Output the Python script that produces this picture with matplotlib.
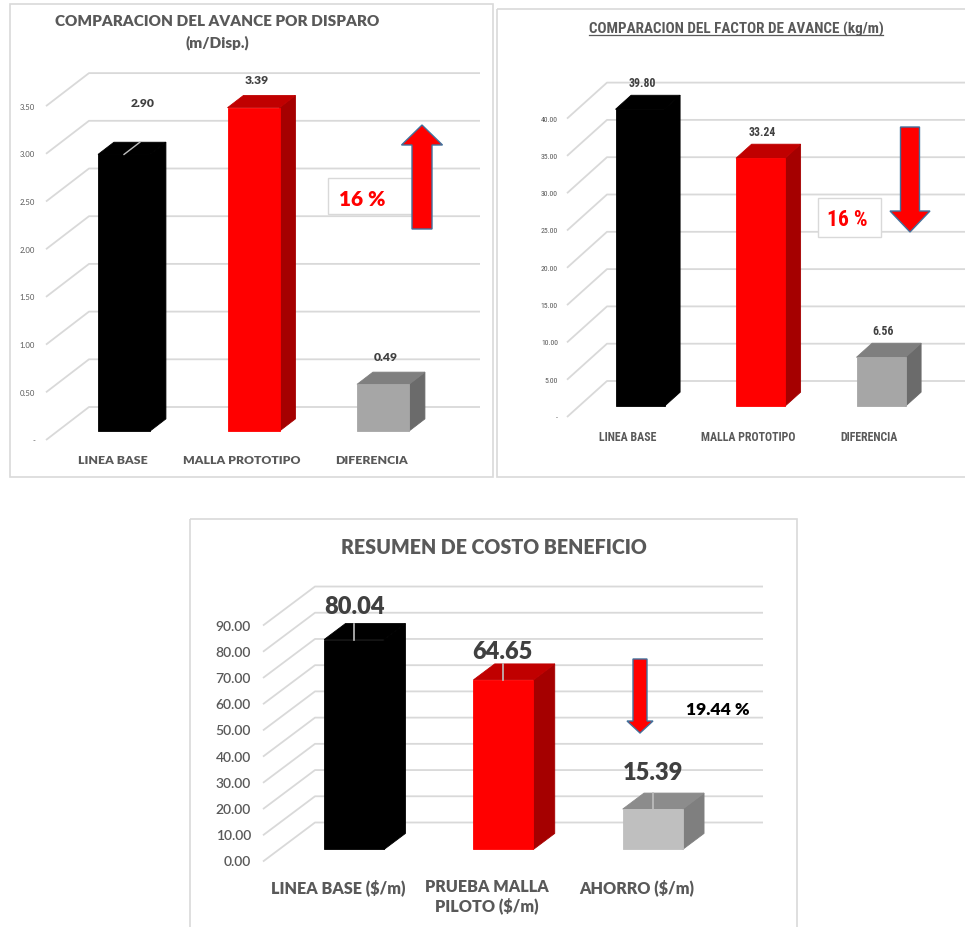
"""Three oblique-3D bar panels: avance por disparo, factor de avance, costo beneficio."""
import numpy as np, matplotlib.pyplot as plt
from matplotlib.patches import Polygon, Rectangle, FancyArrow
from matplotlib.lines import Line2D
from matplotlib.transforms import Affine2D, IdentityTransform

W, H = 965, 928
INK, TXT, GRID, FRAME, LEAD = "#404040", "#595959", "#d9d9d9", "#d9d9d9", "#bfbfbf"
RED, EDGE = "#ff0000", "#41719c"
LATO = ["Lato", "DejaVu Sans"]
COND = ["Roboto Condensed", "Lato", "DejaVu Sans"]
HEAVY = 800
plt.rcParams.update({"font.family": LATO})

# --- data ---
avance_cats = ["LINEA BASE", "MALLA PROTOTIPO", "DIFERENCIA"]
avance_vals = [2.90, 3.39, 0.49]
avance_ticks = [0, 0.5, 1.0, 1.5, 2.0, 2.5, 3.0, 3.5]
avance_pct = "16 %"

factor_cats = ["LINEA BASE", "MALLA PROTOTIPO", "DIFERENCIA"]
factor_vals = [39.80, 33.24, 6.56]
factor_ticks = [0, 5, 10, 15, 20, 25, 30, 35, 40]
factor_pct = "16 %"

costo_cats = ["LINEA BASE ($/m)", "PRUEBA MALLA\nPILOTO ($/m)", "AHORRO ($/m)"]
costo_vals = [80.04, 64.65, 15.39]
costo_ticks = [0, 10, 20, 30, 40, 50, 60, 70, 80, 90]
costo_pct = "19.44 %"

# face colours per bar: front, side, top
DARK = ("#000000", "#000000", "#000000")
REDF = ("#ff0000", "#a50000", "#c00000")
GREY1 = ("#a6a6a6", "#6b6b6b", "#7f7f7f")
GREY2 = ("#bfbfbf", "#7f7f7f", "#8c8c8c")

fig = plt.figure(figsize=(W / 100, H / 100), dpi=100)
PIX = Affine2D().scale(1, -1).translate(0, H)   # pixel coords, origin top-left


def panel(L, cats, vals, ticks, faces, zero_dash):
    x0, y0, x1, y1 = L["frame"]
    ax = fig.add_axes([x0 / W, 1 - y1 / H, (x1 - x0) / W, (y1 - y0) / H])
    ax.set_xlim((x0 - L["cat0"]) / L["step"], (x1 - L["cat0"]) / L["step"])
    ax.set_ylim((L["zero"] - y1) / L["ppu"], (L["zero"] - y0) / L["ppu"])
    ax.axis("off")
    fx = lambda px: (px - L["cat0"]) / L["step"]
    fy = lambda py: (L["zero"] - py) / L["ppu"]
    wx, wy = L["wall"][0] / L["step"], L["wall"][1] / L["ppu"]
    t0, t1 = L["t"]
    hw = L["bar_w"] / L["step"] / 2
    fam, bw = L["font"], L["weight"]

    # side-wall diagonals and back-wall gridlines
    xd, xe = fx(L["diag_x"]), fx(L["wall_end"])
    for v in ticks:
        ax.plot([xd, xd + wx, xe], [v, v + wy, v + wy], color=GRID, lw=1.3, zorder=1, solid_capstyle="butt")
        lab = "-" if (zero_dash and v == 0) else f"{v:.2f}"
        ax.text(fx(L["tick_x"]), v, lab, ha="right", va="center", fontsize=L["tick_fs"],
                fontweight=L["tick_w"], color=TXT, family=fam)

    for i, (v, (cf, cs, ct)) in enumerate(zip(vals, faces)):
        ax_, ay = i + t0 * wx, t0 * wy
        bx, by = i + t1 * wx, t1 * wy
        side = [(ax_ + hw, ay), (bx + hw, by), (bx + hw, by + v), (ax_ + hw, ay + v)]
        top = [(ax_ - hw, ay + v), (ax_ + hw, ay + v), (bx + hw, by + v), (bx - hw, by + v)]
        front = [(ax_ - hw, ay), (ax_ + hw, ay), (ax_ + hw, ay + v), (ax_ - hw, ay + v)]
        for pts, c in ((side, cs), (top, ct), (front, cf)):
            ax.add_patch(Polygon(pts, closed=True, fc=c, ec=c, lw=0.6, zorder=3))
        if L["leader"][i] == "diag":
            ax.plot([ax_, bx], [ay + v, by + v], color=LEAD, lw=1, zorder=4)
        elif L["leader"][i] == "vert":
            ax.plot([ax_, ax_], [ay + v, by + v], color=LEAD, lw=1.2, zorder=4)
        ax.text(ax_ + L["val_dx"][i] / L["step"], by + v + L["val_dy"][i] / L["ppu"], f"{v:.2f}",
                ha="center", va="center", fontsize=L["val_fs"], fontweight=bw, color=INK,
                family=fam, zorder=5)
        ax.text(i, fy(L["cat_y"]), cats[i], ha="center", va="top", fontsize=L["cat_fs"],
                fontweight=bw, color=TXT, family=fam, parse_math=False, linespacing=1.15)

    fig.add_artist(Rectangle((x0, y0), x1 - x0, y1 - y0, transform=PIX, fill=False, ec=FRAME, lw=1.2))
    return ax


L1 = dict(frame=(10, 5, 493, 478), cat0=112.4, step=129.5, zero=441, ppu=95.4, wall=(43, 33),
          t=(0.27, 0.64), bar_w=52, diag_x=46, wall_end=480, tick_x=35, tick_fs=5.6, tick_w="normal",
          cat_y=455, cat_fs=8.8, val_fs=8.7, val_dx=[19, 3, 3], val_dy=[40, 16, 16],
          leader=["diag", None, None], font=LATO, weight=HEAVY)
L2 = dict(frame=(497, 10, 968, 478), cat0=628, step=120.5, zero=418, ppu=7.46, wall=(40, 36),
          t=(0.3, 0.69), bar_w=49, diag_x=567, wall_end=968, tick_x=558, tick_fs=5.6, tick_w="normal",
          cat_y=431, cat_fs=8.6, val_fs=8.5, val_dx=[2, 2, 2], val_dy=[12.5, 12.5, 12.5],
          leader=[None, None, None], font=COND, weight="bold")
L3 = dict(frame=(190, 520, 797, 935), cat0=338, step=149.3, zero=862.5, ppu=2.622, wall=(52, 39),
          t=(0.31, 0.72), bar_w=60, diag_x=263, wall_end=763, tick_x=251, tick_fs=10, tick_w=600,
          cat_y=879, cat_fs=11.6, val_fs=17, val_dx=[0, -1, 0], val_dy=[18, 13, 21],
          leader=["vert", "vert", "vert"], font=LATO, weight=HEAVY)

panel(L1, avance_cats, avance_vals, avance_ticks, [DARK, REDF, GREY1], True)
panel(L2, factor_cats, factor_vals, factor_ticks, [DARK, REDF, GREY1], True)
panel(L3, costo_cats, costo_vals, costo_ticks, [DARK, REDF, GREY2], False)

# titles
fig.text(217 / W, 1 - 21 / H, "COMPARACION DEL AVANCE POR DISPARO", ha="center", va="center",
         fontsize=11, fontweight=HEAVY, color=TXT)
fig.text(217 / W, 1 - 43 / H, "(m/Disp.)", ha="center", va="center", fontsize=11, fontweight=HEAVY, color=TXT)
t2 = fig.text(736 / W, 1 - 29 / H, "COMPARACION DEL FACTOR DE AVANCE (kg/m)", ha="center", va="center",
              fontsize=10.9, fontweight="bold", color=TXT, family=COND)
fig.text(494 / W, 1 - 548 / H, "RESUMEN DE COSTO BENEFICIO", ha="center", va="center",
         fontsize=14.1, fontweight=HEAVY, color=TXT)

# percentage call-outs and arrows
fig.add_artist(Rectangle((328, 179), 84, 36, transform=PIX, fc="white", ec=FRAME, lw=1, zorder=1.5))
fig.text(362 / W, 1 - 199 / H, avance_pct, ha="center", va="center", fontsize=15, fontweight=HEAVY, color=RED)
fig.add_artist(FancyArrow(422, 230, 0, -104, width=20, head_width=41, head_length=20, length_includes_head=True,
                          transform=PIX, fc=RED, ec=EDGE, lw=1, zorder=2))

fig.add_artist(Rectangle((818, 199), 63, 39, transform=PIX, fc="white", ec=FRAME, lw=1, zorder=1.5))
fig.text(847 / W, 1 - 220 / H, factor_pct, ha="center", va="center", fontsize=15.5, fontweight="bold",
         color=RED, family=COND)
fig.add_artist(FancyArrow(910, 128, 0, 105, width=19, head_width=40, head_length=21, length_includes_head=True,
                          transform=PIX, fc=RED, ec=EDGE, lw=1, zorder=2))

fig.add_artist(FancyArrow(640, 660, 0, 74, width=14, head_width=26, head_length=12, length_includes_head=True,
                          transform=PIX, fc=RED, ec=EDGE, lw=1, zorder=2))
fig.text(718 / W, 1 - 710 / H, costo_pct, ha="center", va="center", fontsize=12.6, fontweight=HEAVY, color="black")

# underline for the second title
fig.canvas.draw()
bb = t2.get_window_extent()
fig.add_artist(Line2D([bb.x0, bb.x1], [bb.y0 + 1, bb.y0 + 1], transform=IdentityTransform(), color=TXT, lw=0.9))

fig.savefig("out.png", dpi=100, facecolor="white")
